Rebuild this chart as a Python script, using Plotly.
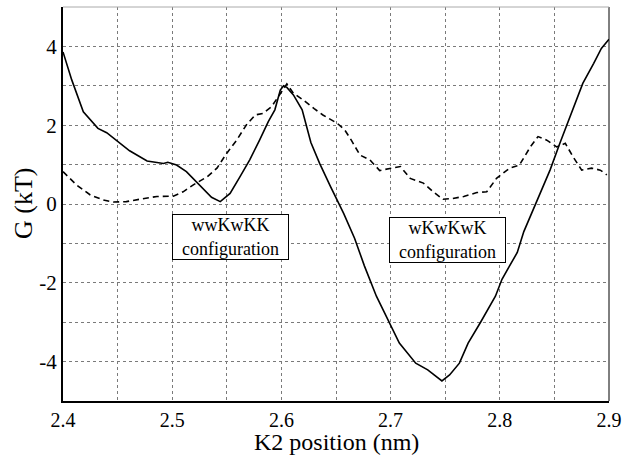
import plotly.graph_objects as go

# ---- data ----
solid_x = [2.400, 2.408, 2.4186, 2.432, 2.440, 2.449, 2.461, 2.477, 2.492, 2.496, 2.504,
           2.513, 2.525, 2.536, 2.544, 2.553, 2.562, 2.571, 2.580, 2.588, 2.594, 2.599,
           2.602, 2.605, 2.611, 2.619, 2.627, 2.635, 2.645, 2.657, 2.667, 2.676, 2.687,
           2.699, 2.708, 2.723, 2.734, 2.747, 2.754, 2.763, 2.771, 2.782, 2.791, 2.796,
           2.802, 2.809, 2.816, 2.822, 2.834, 2.846, 2.855, 2.867, 2.876, 2.886, 2.893,
           2.900]
solid_y = [3.86, 3.15, 2.34, 1.92, 1.81, 1.62, 1.35, 1.09, 1.03, 1.06, 0.99,
           0.82, 0.48, 0.17, 0.06, 0.27, 0.69, 1.12, 1.62, 2.09, 2.39, 2.89,
           3.00, 2.96, 2.77, 2.39, 1.56, 1.03, 0.44, -0.24, -0.87, -1.57, -2.34,
           -3.02, -3.53, -4.04, -4.21, -4.49, -4.34, -4.04, -3.53, -3.02, -2.60, -2.34,
           -1.91, -1.57, -1.23, -0.70, 0.10, 0.86, 1.54, 2.39, 3.06, 3.57, 3.95,
           4.18]

dash_x = [2.400, 2.4125, 2.425, 2.437, 2.446, 2.458, 2.470, 2.486, 2.501, 2.510, 2.519,
          2.532, 2.541, 2.550, 2.559, 2.568, 2.576, 2.583, 2.591, 2.597, 2.605, 2.611,
          2.620, 2.630, 2.638, 2.651, 2.658, 2.664, 2.672, 2.681, 2.690, 2.701, 2.709,
          2.718, 2.730, 2.739, 2.748, 2.757, 2.767, 2.779, 2.788, 2.797, 2.809, 2.818,
          2.828, 2.835, 2.843, 2.852, 2.860, 2.867, 2.875, 2.884, 2.892, 2.898]
dash_y = [0.82, 0.48, 0.23, 0.10, 0.05, 0.06, 0.12, 0.19, 0.20, 0.31, 0.48,
          0.69, 0.91, 1.29, 1.62, 2.01, 2.26, 2.30, 2.47, 2.72, 3.05, 2.81,
          2.64, 2.42, 2.26, 2.05, 1.88, 1.62, 1.24, 1.12, 0.85, 0.91, 0.95,
          0.65, 0.53, 0.31, 0.12, 0.14, 0.19, 0.29, 0.31, 0.65, 0.91, 0.99,
          1.45, 1.71, 1.62, 1.45, 1.54, 1.20, 0.86, 0.91, 0.86, 0.74]

x_ticks = [2.4, 2.5, 2.6, 2.7, 2.8, 2.9]
x_tick_labels = ["2.4", "2.5", "2.6", "2.7", "2.8", "2.9"]
y_ticks = [-4, -2, 0, 2, 4]
y_tick_labels = ["-4", "-2", "0", "2", "4"]

x_title = "K2 position (nm)"
y_title = "G (kT)"

labels = ["wwKwKK<br>configuration", "wKwKwK<br>configuration"]
label_x = [2.5535, 2.7525]
label_y = [-0.84, -0.905]

FONT = "Liberation Serif"

fig = go.Figure()
fig.add_trace(go.Scatter(x=solid_x, y=solid_y, mode="lines",
                         line=dict(color="black", width=1.6), showlegend=False))
fig.add_trace(go.Scatter(x=dash_x, y=dash_y, mode="lines",
                         line=dict(color="black", width=1.6, dash="6px,4px"), showlegend=False))

for txt, xc, yc in zip(labels, label_x, label_y):
    fig.add_annotation(x=xc, y=yc, xref="x", yref="y", text=txt, showarrow=False,
                       font=dict(family=FONT, size=18, color="black"),
                       xanchor="center", yanchor="middle",
                       width=115, height=44, borderpad=0, borderwidth=1,
                       bordercolor="black", bgcolor="white")

# axis titles
fig.add_annotation(x=0.5, y=0, xref="paper", yref="paper", text=x_title, showarrow=False,
                   font=dict(family=FONT, size=24, color="black"),
                   xanchor="center", yanchor="middle", yshift=-41)
fig.add_annotation(x=0, y=0.5, xref="paper", yref="paper", text=y_title, showarrow=False,
                   font=dict(family=FONT, size=26, color="black"), textangle=-90,
                   xanchor="center", yanchor="middle", xshift=-40)

# right and top frame edges
fig.add_shape(type="line", xref="paper", yref="paper", x0=1, x1=1, y0=0, y1=1,
              line=dict(color="black", width=1))
fig.add_shape(type="line", xref="paper", yref="paper", x0=0, x1=1, y0=1, y1=1,
              line=dict(color="#aaaaaa", width=1))

grid = dict(showgrid=True, gridcolor="#7a7a7a", griddash="dot", gridwidth=1)

fig.update_xaxes(range=[2.4, 2.9], tickmode="array", tickvals=x_ticks, ticktext=x_tick_labels,
                 ticks="", showline=True, linecolor="black", linewidth=2, zeroline=False,
                 tickfont=dict(family=FONT, size=20, color="black"),
                 minor=dict(dtick=0.05, tick0=2.4, showgrid=True, gridcolor="#7a7a7a",
                            griddash="dot", gridwidth=1, ticks=""),
                 **grid)
fig.update_yaxes(range=[-5, 5], tickmode="array", tickvals=y_ticks, ticktext=y_tick_labels,
                 ticks="", showline=True, linecolor="black", linewidth=2, zeroline=False,
                 tickfont=dict(family=FONT, size=21, color="black"),
                 minor=dict(dtick=1, tick0=0, showgrid=True, gridcolor="#7a7a7a",
                            griddash="dot", gridwidth=1, ticks=""),
                 **grid)

fig.update_layout(width=633, height=459, margin=dict(l=63, r=24, t=7, b=58),
                  plot_bgcolor="white", paper_bgcolor="white", showlegend=False)

fig.write_html("out.html", config={"displayModeBar": False},
               post_script="document.body.style.margin='0';")
